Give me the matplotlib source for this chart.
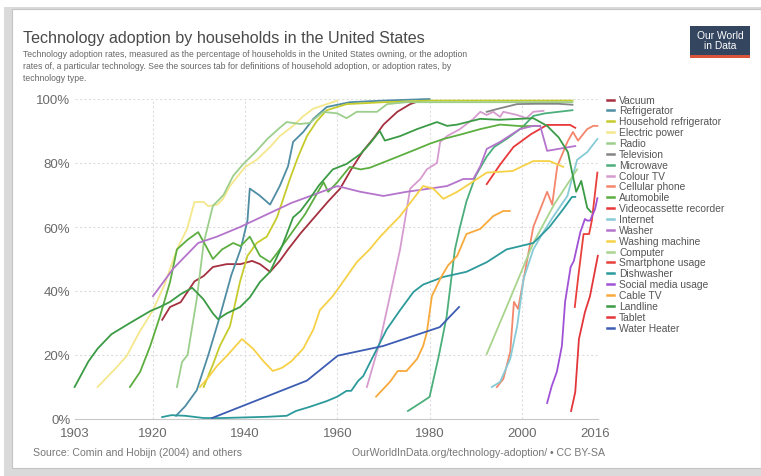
import matplotlib
matplotlib.use('Agg')
import matplotlib.pyplot as plt
from matplotlib import font_manager
from matplotlib.patches import Rectangle
from matplotlib.lines import Line2D

# ---------------- datos ----------------
vacuum_years = [1922, 1923.7, 1926, 1929, 1931, 1933, 1936, 1939, 1941.5, 1943.2, 1945.4, 1947.5, 1949.3,
                1952, 1955, 1958, 1960.6, 1963, 1965.6, 1968, 1970, 1973, 1975.8, 1978.4]
vacuum_pct = [31, 35, 36.5, 43, 44.7, 47.5, 48.4, 48.4, 49.4, 48.4, 46, 49.4, 53,
              58, 63, 68, 72, 78, 83.8, 88, 92, 96, 98.4, 99.7]

fridge_years = [1925, 1927, 1929.5, 1932, 1934.5, 1937, 1939, 1940.5, 1941, 1943, 1945.4, 1947.5, 1949.3,
                1950.4, 1952.6, 1954.8, 1957.7, 1962.7, 1970, 1980]
fridge_pct = [1, 4, 9, 20, 32, 45, 53, 62, 72, 70, 67, 72.8, 79,
              86.6, 89.7, 93.8, 97.5, 99, 99.5, 100]

hh_fridge_years = [1931, 1933, 1934.5, 1936.7, 1938.9, 1940.5, 1942.5, 1944.7, 1946.9, 1949.7, 1951.5,
                   1953.4, 1955.5, 1957.7, 1962, 1970, 1980, 1990, 2000, 2011]
hh_fridge_pct = [10, 17, 22.8, 29, 43, 51, 55, 57, 63, 75, 82,
                 88.4, 93, 96.5, 98.4, 99, 99.5, 99.5, 99.5, 99.5]

electric_years = [1908, 1910, 1912, 1914.3, 1917, 1920, 1922.5, 1925.2, 1927.4, 1929, 1931, 1932, 1934,
                  1935.2, 1936.7, 1940, 1942.5, 1945.4, 1947.5, 1950.4, 1952.5, 1954.8, 1957.7, 1960]
electric_pct = [10, 13, 16, 19.7, 27, 34, 42, 53, 59.4, 67.8, 67.8, 66.5, 67,
                68.8, 72.8, 78.8, 81, 85, 88.4, 91.6, 94.5, 97, 98.4, 99.5]

radio_years = [1925.2, 1926.3, 1927.5, 1929.5, 1931, 1933, 1935.3, 1937.4, 1939.6, 1942.5, 1944.8, 1947.5,
               1949, 1951.9, 1954, 1956.9, 1960, 1962, 1964.2, 1968.6, 1970.8, 1975, 1990, 2011]
radio_pct = [10, 17.8, 20, 37.5, 55, 66.6, 70, 76, 79.7, 83.8, 87.5, 91,
             92.8, 92.2, 92.5, 96, 95.5, 94, 96, 96, 98.4, 99, 99, 99]

tv_years = [1992.4, 1995, 1999, 2003, 2008, 2011]
tv_pct = [96, 97, 98.4, 98.5, 98.5, 98.2]

microwave_years = [1975.3, 1978, 1980, 1982, 1983.7, 1985.5, 1986.6, 1988, 1990, 1992.4, 1994, 1996.7,
                   2000, 2002.5, 2005, 2008, 2011]
microwave_pct = [2.5, 5, 6.9, 19.7, 32, 53, 60, 68, 76, 82, 85, 87.5,
                 91, 94.7, 95.5, 96, 96.5]

colour_tv_years = [1966.4, 1969.2, 1971.4, 1973.6, 1975.8, 1978, 1979.4, 1981.6, 1982.3, 1983.8, 1986.6,
                   1989.5, 1991, 1992.4, 1993.8, 1995.3, 1996, 1999, 2001, 2002.5, 2004.7]
colour_tv_pct = [10, 24, 38.4, 53, 72, 75, 78, 80, 86.6, 88.4, 90.6,
                 93.8, 96, 95, 96, 94.4, 96, 95, 94, 96, 96.3]

cell_years = [1994.6, 1996, 1997.5, 1998.3, 1999.2, 2002.5, 2005.5, 2006.6, 2007.7, 2009.9, 2011.1, 2012.2,
              2014.2, 2015.5, 2016.4]
cell_pct = [10, 12.5, 21, 36.6, 34.4, 60, 71, 67, 79, 86.6, 89.7, 87,
            90.6, 91.6, 91.6]

auto_years = [1915, 1917.2, 1919.4, 1921.5, 1923.7, 1925.2, 1927.5, 1929.8, 1931.5, 1933, 1935, 1937.4,
              1939, 1941, 1943.2, 1945.4, 1947, 1949, 1951, 1953, 1955, 1957, 1958, 1960, 1962.7, 1965,
              1967, 1970.7, 1974, 1977.3, 1980, 1983, 1987, 1991, 1995.3, 2000, 2004]
auto_pct = [10, 14.7, 22.8, 32, 42.8, 53, 56, 58.4, 54, 50, 53, 55,
            54, 57, 51, 49, 52, 56, 60, 64, 69, 74, 71, 74, 78.8, 78,
            78.5, 80.6, 82.5, 84.4, 86, 87.5, 89, 90.6, 92, 91.5, 91.6]

vcr_years = [1992.4, 1995.3, 1998.2, 2002, 2005.5, 2010.5, 2011.6]
vcr_pct = [73.4, 79.5, 85, 89, 91.9, 91.9, 91]

internet_years = [1993.5, 1995.3, 1997.5, 1999, 2000.4, 2002.5, 2004.5, 2006.9, 2009.9, 2012, 2014.2, 2016.4]
internet_pct = [10, 11.6, 18.8, 29, 43.8, 53, 58, 63.4, 69.7, 81, 83.4, 87.5]

washer_years = [1920, 1924.4, 1929.8, 1933.9, 1938.9, 1942.6, 1950, 1960, 1965, 1970, 1975, 1980, 1983.8,
                1987.3, 1989.5, 1991, 1992.4, 1995.3, 1999.6, 2002.5, 2004, 2005.5, 2011.6]
washer_pct = [38.4, 47, 55, 57, 60, 62.5, 67.5, 72.8, 71, 69.7, 71, 72, 72.8,
              75, 75, 79, 84.4, 86.6, 90.6, 91.6, 91.6, 83.8, 85.3]

wash_mach_years = [1930.2, 1932, 1933.9, 1936, 1939.3, 1941.7, 1944, 1946, 1948, 1950, 1952.6, 1954.8,
                   1956.2, 1959, 1960.6, 1964.2, 1967, 1969.3, 1973.6, 1978.6, 1980.8, 1983, 1986, 1990.3,
                   1992.4, 1998, 2002.5, 2006, 2009]
wash_mach_pct = [10, 13, 16.6, 19.7, 25, 22, 18, 15, 16, 18, 22, 28,
                 34, 38.4, 41.6, 49, 53, 57, 63.4, 72.8, 72, 68.8, 71, 75,
                 77, 77.5, 80.6, 80.6, 78.8]

computer_years = [1992.4, 1997, 2002.5, 2007, 2012]
computer_pct = [20.3, 36, 55, 67, 78]

smartphone_years = [2011.5, 2012.3, 2013.4, 2014.6, 2015.2, 2016.4]
smartphone_pct = [35, 45, 57.8, 57.8, 62, 77]

dishwasher_years = [1922, 1924, 1927, 1931, 1935, 1940, 1945, 1949, 1951, 1954, 1957.7, 1960, 1962, 1963,
                    1964.5, 1965.6, 1967.8, 1970.7, 1973.6, 1976.5, 1978.6, 1983, 1988, 1992.4, 1996.7,
                    2002.5, 2006, 2009, 2010.9, 2011.6]
dishwasher_pct = [0.6, 1.2, 1, 0.3, 0.3, 0.5, 0.7, 1, 2.5, 3.8, 5.6, 7, 8.8, 8.8,
                  11.9, 13.4, 19.7, 28, 34, 39.7, 42, 44.4, 46, 49, 53,
                  55, 60, 65.6, 69.4, 69.4]

social_years = [2005.5, 2006.5, 2007.6, 2008.7, 2009.4, 2010.6, 2011.3, 2012.7, 2013.7, 2014.2, 2014.8,
                2015.9, 2016.4]
social_pct = [5, 10.3, 14.7, 22.8, 36.6, 47.5, 49.4, 58.4, 62.5, 62, 62, 65.6, 69]

cable_years = [1968.4, 1971.4, 1973.1, 1975, 1977.3, 1978.6, 1979.4, 1980.5, 1982.3, 1984, 1986, 1988,
               1991, 1993.8, 1996, 1997.4]
cable_pct = [7, 11.6, 15, 15, 18.8, 22.8, 27, 38.4, 43.8, 48, 51, 57.8, 59.4, 63.4, 65, 65]

landline_years = [1903, 1906, 1908, 1911, 1915, 1919.5, 1921.5, 1923.7, 1926, 1928.5, 1930.9, 1933, 1934.1,
                  1936, 1938.9, 1941, 1943.2, 1945.4, 1948, 1950.4, 1952, 1954, 1956, 1959, 1962, 1965,
                  1967, 1969.2, 1970.3, 1973.6, 1977.3, 1981.6, 1983.8, 1986, 1991, 1995, 2002.5, 2005.5,
                  2008, 2010, 2011.8, 2012.9, 2014.2, 2015]
landline_pct = [10, 18, 22, 26.5, 30, 33.8, 35, 36.6, 39, 41, 37.5, 33, 31.2,
                33, 35, 38, 42.8, 46, 54, 63, 65, 68.8, 73, 78, 79.7, 82.8,
                86, 90, 87, 88.4, 90.6, 92.8, 91.6, 92, 93.8, 93.5, 94, 91.6,
                88, 83.4, 71, 74.4, 66, 64.7]

tablet_years = [2010.7, 2011.6, 2012.4, 2013.7, 2014.8, 2016.5]
tablet_pct = [2.5, 8.4, 25, 33.4, 38.4, 51]

heater_years = [1932.8, 1953.4, 1960.1, 1969.9, 1982.2, 1986.4]
heater_pct = [0.3, 12, 19.8, 22.8, 28.7, 35]

names = ['Vacuum', 'Refrigerator', 'Household refrigerator', 'Electric power', 'Radio', 'Television',
         'Microwave', 'Colour TV', 'Cellular phone', 'Automobile', 'Videocassette recorder', 'Internet',
         'Washer', 'Washing machine', 'Computer', 'Smartphone usage', 'Dishwasher', 'Social media usage',
         'Cable TV', 'Landline', 'Tablet', 'Water Heater']
colores = ['#A5303F', '#4F8DA3', '#C6CB2C', '#F4E78C', '#9CCE8C', '#858585', '#4BAE7B', '#D69BCF',
           '#F4866C', '#5DAE40', '#E8383A', '#86CBD6', '#B474CB', '#F6D147', '#A8D48E', '#E8403B',
           '#2C9A9B', '#A052D6', '#F8A93B', '#3B9B45', '#E3363A', '#3D5DB3']
series = [(vacuum_years, vacuum_pct), (fridge_years, fridge_pct), (hh_fridge_years, hh_fridge_pct),
          (electric_years, electric_pct), (radio_years, radio_pct), (tv_years, tv_pct),
          (microwave_years, microwave_pct), (colour_tv_years, colour_tv_pct), (cell_years, cell_pct),
          (auto_years, auto_pct), (vcr_years, vcr_pct), (internet_years, internet_pct),
          (washer_years, washer_pct), (wash_mach_years, wash_mach_pct), (computer_years, computer_pct),
          (smartphone_years, smartphone_pct), (dishwasher_years, dishwasher_pct), (social_years, social_pct),
          (cable_years, cable_pct), (landline_years, landline_pct), (tablet_years, tablet_pct),
          (heater_years, heater_pct)]

x_ticks = [1903, 1920, 1940, 1960, 1980, 2000, 2016]
y_ticks = [0, 20, 40, 60, 80, 100]

# ---------------- fuentes ----------------
disponibles = {f.name for f in font_manager.fontManager.ttflist}
fuente = 'Liberation Sans' if 'Liberation Sans' in disponibles else 'DejaVu Sans'
plt.rcParams['font.family'] = [fuente, 'DejaVu Sans']

W, H = 761, 477
fig = plt.figure(figsize=(W / 100, H / 100), dpi=100)
fig.patch.set_facecolor('white')

# tarjeta con sombra
fig.patches.append(Rectangle((4 / W, 0), (W - 4) / W, (H - 8) / H, transform=fig.transFigure,
                             facecolor='#DADADA', edgecolor='none', zorder=-3))
fig.patches.append(Rectangle((12 / W, 8 / H), (W - 12) / W, (H - 18) / H, transform=fig.transFigure,
                             facecolor='white', edgecolor='#C4C4C4', linewidth=0.8, zorder=-2))

# ---------------- ejes ----------------
x0, x1 = 1903, 2016.5
ax = fig.add_axes([74.6 / W, 1 - 420 / H, (x1 - x0) * 4.61 / W, 320 / H])
for (xs, ys), c in zip(series, colores):
    ax.plot(xs, ys, color=c, linewidth=1.3, solid_joinstyle='round', clip_on=False)

ax.set_xlim(x0, x1)
ax.set_ylim(0, 100)
ax.set_xticks(x_ticks)
ax.set_xticklabels([str(t) for t in x_ticks])
ax.set_yticks(y_ticks)
ax.set_yticklabels([f'{t}%' for t in y_ticks])
for s in ['top', 'right', 'left']:
    ax.spines[s].set_visible(False)
ax.spines['bottom'].set_color('#C8C8C8')
ax.tick_params(axis='both', length=0, labelsize=9.5, labelcolor='#6A6A6A')
ax.tick_params(axis='x', pad=6)
ax.tick_params(axis='y', pad=3)
for t in y_ticks[1:]:
    ax.axhline(t, color='#DDDDDD', linewidth=0.8, linestyle=(0, (2, 2)), zorder=0)
for t in x_ticks[1:-1]:
    ax.axvline(t, color='#DDDDDD', linewidth=0.8, linestyle=(0, (2, 2)), zorder=0)

# ---------------- leyenda ----------------
for i, (n, c) in enumerate(zip(names, colores)):
    yy = 1 - (100.5 + i * 10.86) / H
    fig.add_artist(Line2D([607 / W, 614 / W], [yy, yy], color=c, linewidth=1.8))
    fig.text(619 / W, yy, n, fontsize=7.4, color='#555555', va='center', ha='left')

# ---------------- textos ----------------
fig.text(23 / W, 1 - 38 / H, 'Technology adoption by households in the United States',
         fontsize=11.6, color='#4A4A4A', va='center', ha='left')
subt = ('Technology adoption rates, measured as the percentage of households in the United States owning, or the adoption\n'
        'rates of, a particular technology. See the sources tab for definitions of household adoption, or adoption rates, by\n'
        'technology type.')
fig.text(23 / W, 1 - 50 / H, subt, fontsize=6.25, color='#666666', va='top', ha='left', linespacing=1.42)
fig.text(33 / W, 1 - 453 / H, 'Source: Comin and Hobijn (2004) and others', fontsize=7.6, color='#777777',
         va='center', ha='left')
fig.text(605 / W, 1 - 453 / H, 'OurWorldInData.org/technology-adoption/ • CC BY-SA', fontsize=7.6,
         color='#777777', va='center', ha='right')

# logo
fig.patches.append(Rectangle((690 / W, 1 - 59 / H), 60 / W, 32 / H, transform=fig.transFigure,
                             facecolor='#34455F', edgecolor='none'))
fig.patches.append(Rectangle((690 / W, 1 - 59 / H), 60 / W, 3 / H, transform=fig.transFigure,
                             facecolor='#D9543A', edgecolor='none'))
fig.text(720 / W, 1 - 41 / H, 'Our World\nin Data', fontsize=7.4, color='white', va='center', ha='center',
         linespacing=0.95)

fig.savefig('out.png', dpi=100)
